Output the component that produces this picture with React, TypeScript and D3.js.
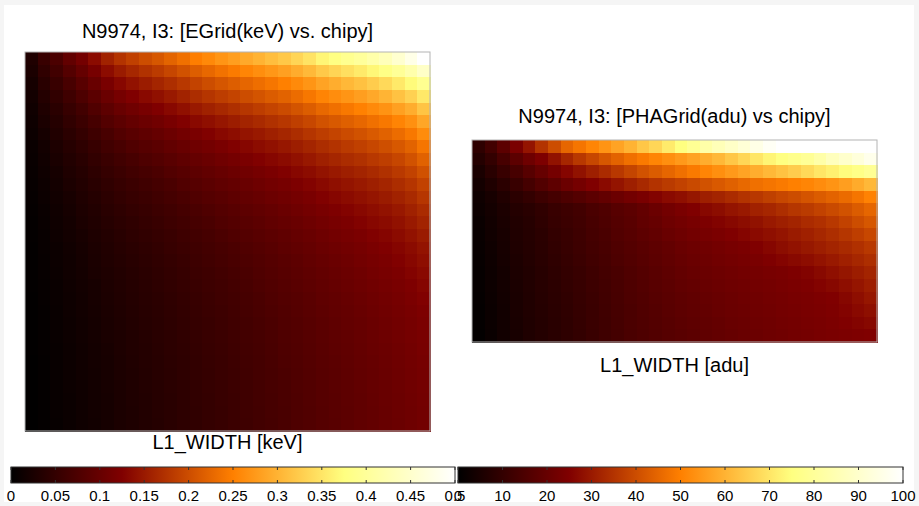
import React, { useEffect, useRef } from 'react'
import * as d3 from 'd3'

// L1_WIDTH in eV, one row per chipy bin (top row first), 32 width bins each
const eGridRows: number[][] = [
  [30, 55, 74, 96, 114, 136, 158, 175, 188, 200, 210, 223, 235, 249, 259, 271, 280, 291, 300, 311, 321, 334, 348, 366, 378, 391, 402, 417, 432, 453, 476, 516],
  [26, 47, 64, 82, 99, 117, 137, 151, 163, 174, 183, 194, 205, 217, 227, 237, 246, 255, 264, 273, 282, 294, 306, 322, 333, 344, 354, 367, 381, 398, 419, 445],
  [22, 40, 55, 71, 86, 102, 119, 132, 143, 152, 161, 170, 180, 191, 200, 209, 217, 225, 233, 241, 250, 260, 271, 285, 295, 305, 314, 325, 338, 353, 371, 392],
  [19, 35, 48, 62, 75, 89, 104, 116, 125, 134, 141, 150, 159, 169, 177, 185, 192, 200, 207, 215, 222, 231, 242, 254, 263, 271, 280, 290, 301, 315, 330, 352],
  [16, 30, 41, 54, 65, 78, 91, 102, 110, 118, 125, 133, 141, 150, 157, 164, 171, 178, 185, 192, 199, 207, 216, 227, 235, 243, 251, 260, 269, 282, 295, 317],
  [14, 26, 36, 48, 58, 69, 81, 90, 98, 105, 111, 119, 126, 134, 140, 147, 153, 160, 166, 173, 179, 187, 195, 205, 212, 219, 226, 235, 243, 254, 266, 288],
  [12, 22, 32, 42, 51, 61, 71, 80, 87, 93, 99, 106, 113, 120, 126, 133, 138, 145, 150, 156, 162, 169, 177, 185, 192, 199, 205, 213, 221, 231, 243, 262],
  [10, 19, 28, 37, 45, 54, 64, 71, 78, 84, 89, 96, 102, 109, 114, 120, 126, 131, 137, 142, 148, 154, 161, 169, 175, 182, 188, 195, 202, 211, 222, 240],
  [9, 17, 25, 33, 40, 49, 57, 64, 70, 76, 81, 87, 93, 99, 104, 110, 115, 121, 126, 131, 136, 142, 149, 156, 162, 168, 173, 180, 186, 194, 205, 221],
  [8, 15, 22, 30, 36, 44, 52, 58, 64, 69, 74, 80, 85, 91, 96, 101, 106, 111, 116, 121, 126, 132, 137, 144, 150, 155, 160, 166, 173, 181, 190, 204],
  [7, 13, 20, 27, 33, 40, 47, 53, 58, 63, 68, 73, 79, 84, 89, 94, 98, 103, 108, 113, 117, 123, 128, 134, 140, 145, 150, 155, 161, 169, 177, 190],
  [6, 12, 18, 24, 30, 36, 43, 49, 54, 58, 63, 68, 73, 78, 83, 87, 92, 97, 101, 106, 110, 115, 120, 126, 131, 136, 141, 146, 151, 158, 166, 178],
  [5, 10, 16, 22, 28, 33, 40, 45, 50, 54, 59, 63, 68, 73, 77, 82, 86, 91, 95, 99, 104, 109, 114, 119, 124, 128, 133, 138, 143, 149, 157, 167],
  [4, 9, 15, 20, 26, 31, 37, 42, 46, 51, 55, 60, 64, 69, 73, 78, 82, 86, 90, 95, 99, 103, 108, 113, 118, 122, 127, 132, 136, 142, 150, 159],
  [4, 8, 14, 19, 24, 29, 34, 39, 44, 48, 52, 56, 61, 65, 69, 74, 78, 82, 86, 90, 94, 99, 103, 108, 113, 117, 121, 126, 130, 136, 143, 151],
  [3, 8, 12, 17, 22, 27, 32, 37, 41, 45, 49, 54, 58, 62, 66, 70, 74, 78, 82, 86, 91, 95, 99, 104, 108, 112, 116, 121, 125, 130, 136, 144],
  [3, 7, 12, 16, 21, 26, 31, 35, 39, 43, 47, 51, 55, 60, 64, 68, 72, 75, 79, 83, 87, 91, 96, 100, 104, 108, 113, 117, 121, 126, 132, 139],
  [3, 7, 11, 16, 20, 25, 29, 33, 37, 41, 45, 49, 53, 58, 61, 65, 69, 73, 77, 81, 85, 89, 93, 97, 101, 105, 109, 114, 118, 122, 128, 134],
  [3, 6, 10, 15, 19, 23, 28, 32, 36, 40, 44, 48, 52, 56, 60, 63, 67, 71, 75, 79, 83, 87, 91, 95, 99, 103, 107, 111, 115, 119, 124, 130],
  [2, 6, 10, 14, 18, 23, 27, 31, 35, 39, 42, 46, 50, 54, 58, 62, 65, 69, 73, 77, 81, 84, 88, 93, 96, 100, 104, 108, 112, 116, 121, 126],
  [2, 5, 9, 14, 18, 22, 26, 30, 34, 38, 41, 45, 49, 53, 57, 60, 64, 68, 72, 75, 79, 83, 87, 91, 95, 98, 102, 106, 110, 114, 118, 123],
  [2, 5, 9, 13, 17, 21, 25, 29, 33, 37, 40, 44, 48, 52, 55, 59, 63, 66, 70, 74, 78, 81, 85, 89, 93, 97, 100, 104, 108, 112, 116, 121],
  [2, 5, 9, 13, 17, 21, 25, 28, 32, 36, 40, 43, 47, 51, 55, 58, 62, 66, 69, 73, 77, 80, 84, 88, 92, 95, 99, 103, 107, 111, 115, 119],
  [2, 5, 8, 12, 16, 20, 24, 28, 32, 35, 39, 43, 46, 50, 54, 57, 61, 65, 68, 72, 76, 79, 83, 87, 91, 94, 98, 102, 105, 109, 113, 118],
  [1, 4, 8, 12, 16, 20, 23, 27, 31, 35, 38, 42, 45, 49, 53, 56, 60, 64, 67, 71, 75, 78, 82, 86, 89, 93, 97, 100, 104, 108, 112, 116],
  [1, 4, 8, 12, 16, 19, 23, 27, 30, 34, 38, 41, 45, 49, 52, 56, 59, 63, 67, 70, 74, 77, 81, 85, 88, 92, 96, 99, 103, 107, 111, 115],
  [1, 4, 8, 12, 15, 19, 23, 26, 30, 34, 37, 41, 44, 48, 52, 55, 59, 62, 66, 70, 73, 77, 80, 84, 88, 91, 95, 99, 102, 106, 110, 114],
  [1, 4, 8, 11, 15, 19, 22, 26, 30, 33, 37, 40, 44, 48, 51, 55, 58, 62, 66, 69, 73, 76, 80, 84, 87, 91, 94, 98, 102, 105, 109, 113],
  [1, 4, 8, 11, 15, 19, 22, 26, 29, 33, 37, 40, 44, 47, 51, 54, 58, 62, 65, 69, 72, 76, 79, 83, 87, 90, 94, 97, 101, 105, 108, 112],
  [1, 4, 7, 11, 15, 18, 22, 26, 29, 33, 36, 40, 44, 47, 51, 54, 58, 61, 65, 68, 72, 76, 79, 83, 86, 90, 94, 97, 101, 104, 108, 112],
]

// L1_WIDTH in adu, 16 chipy bins (top first) x 32 width bins
const phaGridRows: number[][] = [
  [9, 13, 18, 24, 29, 35, 40, 45, 48, 51, 54, 57, 60, 64, 67, 71, 75, 79, 83, 86, 89, 92, 95, 98, 101, 102, 103, 104, 105, 106, 107, 108],
  [7, 10, 14, 18, 21.5, 24.5, 28.5, 32.5, 36, 39, 42, 44.5, 47, 49, 51, 53, 55, 57, 59, 61, 64, 67, 70, 73, 75.5, 77.5, 79.5, 83, 87, 90, 93, 96],
  [5, 8, 11, 14, 17, 20, 23, 26, 28.5, 31, 33.5, 36, 38.5, 41, 43, 45, 47, 49, 51, 53, 55, 57, 59, 61, 63, 65, 67.5, 70, 72, 74.5, 76.5, 79],
  [4, 6, 8.5, 11, 13.5, 16, 18.5, 21, 23, 25, 27, 29, 31, 33, 35, 36.5, 38, 39.5, 41, 42.5, 44, 45.5, 47, 48, 49, 50, 51, 52.5, 54, 56, 58.5, 61],
  [3, 4.5, 6.5, 8.5, 10, 12, 13.5, 15, 16.5, 18, 19.5, 21, 22.5, 24, 25.5, 27, 28, 29.5, 31, 32, 33.5, 35, 36, 37.5, 39, 40, 41.5, 43, 44.5, 46, 48, 50.5],
  [2.5, 4, 5.5, 7, 8, 9.5, 11, 12, 13, 14.5, 15.5, 17, 18, 19.5, 21, 22.5, 24, 25, 26.5, 27.5, 29, 30, 31.5, 32.5, 34, 35.5, 36.5, 38, 39.5, 41, 43, 45],
  [2, 3.5, 5, 6.5, 7.5, 9, 10.5, 11.5, 12.5, 14, 15, 16.5, 17.5, 19, 20, 21.5, 22.5, 23.5, 24.5, 25.5, 26.5, 27.5, 28.5, 30, 31, 32, 33.5, 34.5, 36, 38, 40, 42],
  [1.8, 3.3, 4.8, 6.2, 7.2, 8.5, 10, 11, 12.2, 13.5, 14.5, 16, 17, 18.2, 19.2, 20.5, 21.5, 22.5, 23.3, 24.2, 25, 26, 27, 28, 29, 30.2, 31.3, 32.6, 34, 35.5, 37.2, 39],
  [1.5, 3, 4.5, 6, 7, 8.3, 9.7, 10.8, 12, 13.2, 14.2, 15.5, 16.5, 17.5, 18.5, 19.5, 20.5, 21.3, 22, 22.8, 23.5, 24.2, 25, 26.2, 27.5, 28.6, 29.7, 30.8, 32, 33.2, 34.5, 36],
  [1.4, 2.8, 4.3, 5.7, 6.8, 8, 9.3, 10.4, 11.5, 12.7, 13.8, 15, 16, 17, 18, 19, 20, 20.7, 21.4, 22.1, 22.8, 23.4, 24, 24.9, 25.8, 26.7, 27.6, 28.8, 30, 31.3, 32.6, 34],
  [1.2, 2.6, 4, 5.4, 6.5, 7.7, 8.8, 10, 11, 12.2, 13.3, 14.4, 15.5, 16.5, 17.5, 18.5, 19.5, 20.1, 20.7, 21.4, 22, 22.5, 23, 23.5, 24, 24.7, 25.5, 26.7, 28, 29.3, 30.6, 32],
  [1.1, 2.5, 3.9, 5.3, 6.4, 7.6, 8.6, 9.8, 10.8, 11.9, 13, 14.2, 15.3, 16.2, 17.2, 18.1, 19, 19.6, 20.3, 20.9, 21.5, 22, 22.5, 23, 23.5, 24.1, 24.8, 25.6, 26.5, 27.8, 29.2, 30.7],
  [1, 2.3, 3.7, 5.1, 6.3, 7.4, 8.4, 9.5, 10.5, 11.6, 12.7, 13.9, 15, 15.9, 16.8, 17.7, 18.5, 19.1, 19.8, 20.4, 21, 21.5, 22, 22.5, 23, 23.5, 24, 24.5, 25, 26.3, 27.8, 29.4],
  [0.8, 2.2, 3.6, 5, 6.2, 7.3, 8.3, 9.3, 10.3, 11.4, 12.6, 13.7, 14.8, 15.7, 16.5, 17.4, 18.2, 18.8, 19.5, 20.1, 20.7, 21.2, 21.7, 22.2, 22.7, 23.2, 23.7, 24.2, 24.7, 25.6, 26.8, 27.9],
  [0.7, 2.1, 3.6, 4.9, 6.1, 7.1, 8.1, 9.1, 10.2, 11.3, 12.4, 13.6, 14.7, 15.5, 16.3, 17.1, 17.8, 18.5, 19.1, 19.7, 20.3, 20.8, 21.3, 21.8, 22.3, 22.8, 23.3, 23.8, 24.3, 25, 25.7, 26.5],
  [0.5, 2, 3.5, 4.8, 6, 7, 8, 9, 10, 11.1, 12.3, 13.4, 14.5, 15.3, 16, 16.8, 17.5, 18.1, 18.8, 19.4, 20, 20.5, 21, 21.5, 22, 22.5, 23, 23.5, 24, 24.3, 24.7, 25],
]

const eTicks = [0, 0.05, 0.1, 0.15, 0.2, 0.25, 0.3, 0.35, 0.4, 0.45, 0.5]
const phaTicks = [0, 10, 20, 30, 40, 50, 60, 70, 80, 90, 100]

const eTitle = 'N9974, I3: [EGrid(keV) vs. chipy]'
const eXLabel = 'L1_WIDTH [keV]'
const phaTitle = 'N9974, I3: [PHAGrid(adu) vs chipy]'
const phaXLabel = 'L1_WIDTH [adu]'

const FONT = '"Liberation Sans", Arial, Helvetica, sans-serif'

// matplotlib style "afmhot": black -> red -> orange -> yellow -> white
function afmhot(t: number) {
  const c = (v: number) => Math.round(255 * Math.max(0, Math.min(1, v)))
  return `rgb(${c(2 * t)},${c(2 * t - 0.5)},${c(2 * t - 1)})`
}

function drawHeatmap(svg: any, rows: number[][], colour: any, box: any, title: string, xlabel: string) {
  let x = d3.scaleBand<number>().domain(d3.range(rows[0].length)).range([box.x0, box.x1])
  let y = d3.scaleBand<number>().domain(d3.range(rows.length)).range([box.y0, box.y1])
  let cells = rows.flatMap((row, r) => row.map((v, c) => ({ r, c, v })))

  let g = svg.append('g').attr('shape-rendering', 'crispEdges')
  g.selectAll('rect.cell')
    .data(cells)
    .join('rect')
    .attr('class', 'cell')
    .attr('x', (d: any) => x(d.c))
    .attr('y', (d: any) => y(d.r))
    .attr('width', x.bandwidth() + 0.5)
    .attr('height', y.bandwidth() + 0.5)
    .attr('fill', (d: any) => colour(d.v))

  svg.append('rect')
    .attr('x', box.x0).attr('y', box.y0)
    .attr('width', box.x1 - box.x0).attr('height', box.y1 - box.y0)
    .attr('fill', 'none').attr('stroke', '#b4b4b4').attr('stroke-width', 1)

  let cx = (box.x0 + box.x1) / 2
  svg.append('text')
    .attr('x', cx).attr('y', box.y0 - box.titleGap)
    .attr('text-anchor', 'middle')
    .style('font-family', FONT).style('font-size', '20px').attr('fill', '#000')
    .text(title)
  svg.append('text')
    .attr('x', cx).attr('y', box.y1 + box.labelGap)
    .attr('text-anchor', 'middle')
    .style('font-family', FONT).style('font-size', '20px').attr('fill', '#000')
    .text(xlabel)
}

function drawColorbar(svg: any, id: string, domain: number[], ticks: number[], box: any) {
  let defs = svg.append('defs')
  let grad = defs.append('linearGradient').attr('id', id).attr('x1', '0%').attr('x2', '100%')
  ;[0, 0.25, 0.5, 0.75, 1].forEach((t) => {
    grad.append('stop').attr('offset', `${t * 100}%`).attr('stop-color', afmhot(t))
  })
  let x = d3.scaleLinear().domain(domain).range([box.x0, box.x1])

  svg.append('rect')
    .attr('x', box.x0).attr('y', box.y0)
    .attr('width', box.x1 - box.x0).attr('height', box.y1 - box.y0)
    .attr('fill', `url(#${id})`).attr('stroke', '#333').attr('stroke-width', 1)

  let tg = svg.append('g')
  ticks.forEach((t) => {
    tg.append('line').attr('x1', x(t)).attr('x2', x(t)).attr('y1', box.y0).attr('y2', box.y0 + 3)
      .attr('stroke', '#333').attr('stroke-width', 1)
    tg.append('line').attr('x1', x(t)).attr('x2', x(t)).attr('y1', box.y1 - 3).attr('y2', box.y1)
      .attr('stroke', '#333').attr('stroke-width', 1)
    tg.append('text')
      .attr('x', x(t)).attr('y', box.y1 + 18)
      .attr('text-anchor', 'middle')
      .style('font-family', FONT).style('font-size', '15px').attr('fill', '#000')
      .text(String(t))
  })
}

export default function App() {
  const ref = useRef<SVGSVGElement>(null)

  useEffect(() => {
    let svg = d3.select(ref.current)
    svg.selectAll('*').remove()

    svg.append('rect').attr('width', 919).attr('height', 506).attr('fill', '#f5f5f5')
    svg.append('rect').attr('x', 4).attr('y', 5).attr('width', 910).attr('height', 497).attr('fill', '#fff')

    // colours: eV grid spans 0..0.5 keV, adu grid spans 0..100
    let eColour = d3.scaleSequential(afmhot).domain([0, 500]).clamp(true)
    let phaColour = d3.scaleSequential(afmhot).domain([0, 100]).clamp(true)

    drawHeatmap(svg, eGridRows, eColour, { x0: 25, x1: 430, y0: 52, y1: 431, titleGap: 14, labelGap: 18 }, eTitle, eXLabel)
    drawHeatmap(svg, phaGridRows, phaColour, { x0: 472, x1: 877, y0: 140, y1: 342, titleGap: 17, labelGap: 30 }, phaTitle, phaXLabel)

    drawColorbar(svg, 'cb-e', [0, 0.5], eTicks, { x0: 11, x1: 455, y0: 467, y1: 483 })
    drawColorbar(svg, 'cb-pha', [0, 100], phaTicks, { x0: 458, x1: 903, y0: 467, y1: 483 })
  }, [])

  return (
    <div style={{ position: 'fixed', left: 0, top: 0 }}>
      <svg ref={ref} width={919} height={506} style={{ display: 'block' }} />
    </div>
  )
}
